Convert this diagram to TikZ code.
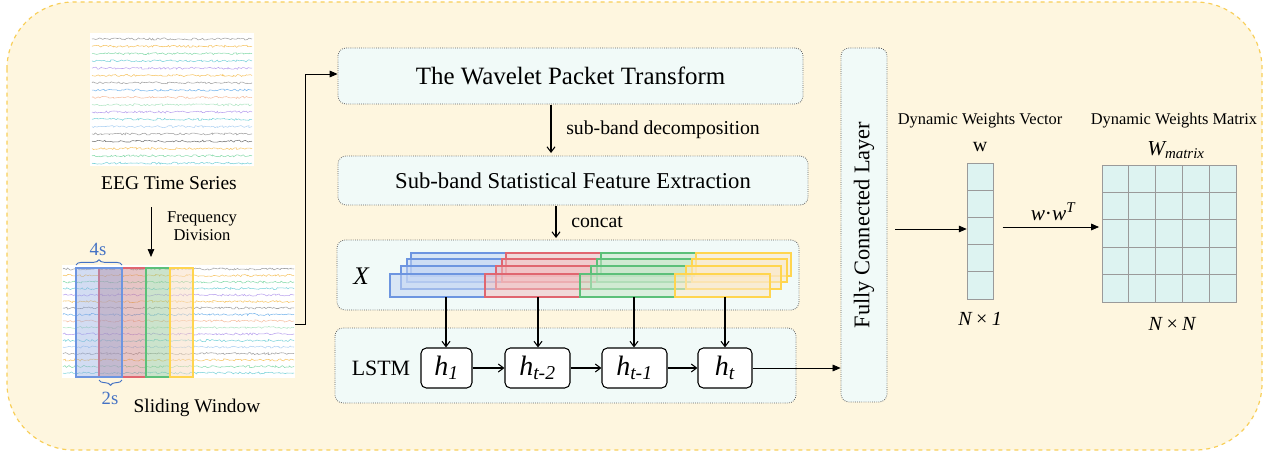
\documentclass[tikz,border=0pt]{standalone}
\usepackage{fontspec}
\setmainfont{LiberationSerif}[Extension=.ttf, UprightFont=*-Regular, ItalicFont=*-Italic, BoldFont=*-Bold, BoldItalicFont=*-BoldItalic]
\usetikzlibrary{arrows.meta,decorations.pathmorphing,decorations.pathreplacing}
\definecolor{bgy}{HTML}{FEF6DF}
\definecolor{bgyb}{HTML}{F8CF5A}
\definecolor{boxf}{HTML}{F1FAF8}
\definecolor{boxd}{HTML}{606060}
\definecolor{cellf}{HTML}{DDF3F1}
\definecolor{cellb}{HTML}{9A9A9A}
\definecolor{sblue}{HTML}{4472C4}
\definecolor{eg}{HTML}{8A8A8A}
\definecolor{edg}{HTML}{555555}
\definecolor{eo}{HTML}{F5B841}
\definecolor{egr}{HTML}{6FD39A}
\definecolor{ec}{HTML}{5BC8D0}
\definecolor{ep}{HTML}{A98BEA}
\definecolor{eb}{HTML}{5AA5E8}
\definecolor{es}{HTML}{F4B08A}
\definecolor{elg}{HTML}{9EE0B5}
\definecolor{elb}{HTML}{9CC8F0}
\definecolor{bf}{HTML}{C5D6F4}
\definecolor{bd}{HTML}{6D95E0}
\definecolor{rf}{HTML}{F0C0C3}
\definecolor{rd}{HTML}{E06670}
\definecolor{gf}{HTML}{C8E6C9}
\definecolor{gd}{HTML}{5CC079}
\definecolor{yf}{HTML}{FBE9CC}
\definecolor{yd}{HTML}{FFD54F}
\definecolor{wb}{HTML}{8FA8E0}
\definecolor{wr}{HTML}{C98080}
\definecolor{wg}{HTML}{98C89A}
\definecolor{wy}{HTML}{F8DCC0}
\newcommand{\fs}[1]{\fontsize{#1pt}{#1pt}\selectfont}
\begin{document}
\begin{tikzpicture}[x=0.75pt,y=-0.75pt,
  box/.style={draw=boxd, densely dotted, line width=0.6pt, fill=boxf, rounded corners=6pt, inner sep=0pt},
  hbox/.style={draw=black, line width=0.8pt, fill=white, rounded corners=4pt, minimum height=30pt, inner sep=0pt, font=\fs{21}\itshape},
  lbl/.style={inner sep=0pt, align=center},
  eeg/.style={line width=0.4pt, opacity=0.8, decorate, decoration={random steps, segment length=1.3pt, amplitude=0.8pt}},
  tri/.style={-{Triangle[length=6pt,width=5pt]}, line width=0.6pt},
  barb/.style={-{Straight Barb[length=4pt,width=6pt]}, line width=0.8pt},
  cell/.style={draw=cellb, fill=cellf, line width=0.6pt},
]
\useasboundingbox (0,0) rectangle (1276,453);
\pgfmathsetseed{7}
% background
\draw[bgyb, fill=bgy, dashed, line width=0.9pt, rounded corners=50pt] (7,2) rectangle (1262,450);

% EEG top
\fill[white] (90,33) rectangle (254,166);
\foreach \c [count=\i from 0] in {eg,eo,egr,ec,ep,eo,eg,eb,es,elg,ep,ec,elb,eg,edg,eo,egr,ec}
  \draw[\c, eeg] (92,{39+\i*7.3}) -- (252,{39+\i*7.3});
\node[lbl, font=\fs{14.6}] (eegt) at (169,183) {EEG Time Series};

% frequency division
\coordinate (fd1) at (151,207);
\coordinate (fd2) at (151,257);
\draw[tri, line width=0.5pt] (fd1) -- (fd2);
\node[lbl, font=\fs{12.4}] (fdl) at (202,226) {Frequency\\[1pt]Division};

% EEG bottom
\fill[white] (62,265) rectangle (295,378);
\foreach \c [count=\i from 0] in {eg,eo,egr,ec,ep,eo,eg,eb,es,elg,ep,ec,elb,eg,eo,egr,ec}
  \draw[\c, eeg] (63,{269+\i*6.5}) -- (294,{269+\i*6.5});
\draw[rd, fill=wr, fill opacity=0.45, line width=0.9pt] (99,268) rectangle (146,377);
\draw[bd, fill=wb, fill opacity=0.4, line width=0.9pt] (76,268) rectangle (122,377);
\draw[gd, fill=wg, fill opacity=0.5, line width=0.9pt] (146,268) rectangle (170,377);
\draw[yd, fill=wy, fill opacity=0.5, line width=0.9pt] (170,268) rectangle (193,377);
\draw[sblue, line width=0.7pt, decorate, decoration={brace, amplitude=4pt}] (76,265) -- (122,265);
\draw[sblue, line width=0.7pt, decorate, decoration={brace, amplitude=4pt}] (122,380) -- (99,380);
\node[lbl, font=\fs{14}, text=sblue] (l4s) at (98,249) {4s};
\node[lbl, font=\fs{14}, text=sblue] (l2s) at (110,398) {2s};
\node[lbl, font=\fs{14.5}] (slw) at (197,408) {Sliding Window};
\coordinate (sw) at (295,324);

% main boxes
\node[box, minimum width=348.75pt, minimum height=42pt] (wpt) at (570.5,76) {};
\node[lbl, font=\fs{18.7}] at (wpt) {The Wavelet Packet Transform};
\node[box, minimum width=352.5pt, minimum height=36.75pt] (sub) at (573,180.5) {};
\node[lbl, font=\fs{17}] at (sub) {Sub-band Statistical Feature Extraction};
\node[box, minimum width=346.5pt, minimum height=52.5pt] (xb) at (568,275) {};
\node[lbl, font=\fs{19}\itshape] (xl) at (361,276) {X};
\node[box, minimum width=345.75pt, minimum height=56.25pt] (lb) at (565.5,365.5) {};
\node[lbl, font=\fs{16.4}] (lstml) at (381,368) {LSTM};

\draw[tri] (sw) -- (305,324) -- (305,74) -- (wpt.west |- 0,74);

\draw[barb] (551,105) -- (551,153);
\node[lbl, font=\fs{14.8}, anchor=west] (sbd) at (566,130) {sub-band decomposition};
\draw[barb] (556,206) -- (556,238);
\node[lbl, font=\fs{14.8}, anchor=west] (cc) at (571,222) {concat};

% stacks
\foreach \x/\f/\d [count=\k from 0] in {390/bf/bd, 485/rf/rd, 580/gf/gd, 675/yf/yd} {
  \foreach \ox/\oy in {21/-21, 17/-15, 11/-8, 0/0}
    \draw[\d, fill=\f, fill opacity=0.55, line width=0.8pt] ({\x+\ox},{274+\oy}) rectangle ({\x+\ox+95},{297+\oy});
}
\foreach \n/\x in {s1/446, s2/538, s3/634, s4/725}
  \coordinate (\n) at (\x,297);

% h nodes
\node[hbox, minimum width=38.25pt] (h1) at (446.5,368) {h\textsubscript{1}};
\node[hbox, minimum width=48.75pt] (h2) at (537.5,368) {h\textsubscript{t-2}};
\node[hbox, minimum width=48.75pt] (h3) at (634.5,368) {h\textsubscript{t-1}};
\node[hbox, minimum width=40.5pt] (h4) at (725,368) {h\textsubscript{t}};
\draw[barb] (s1) -- (h1.north -| s1);
\draw[barb] (s2) -- (h2.north -| s2);
\draw[barb] (s3) -- (h3.north -| s3);
\draw[barb] (s4) -- (h4.north -| s4);
\draw[barb] (h1) -- (h2);
\draw[barb] (h2) -- (h3);
\draw[barb] (h3) -- (h4);

% FC
\node[box, minimum width=34.5pt, minimum height=265.5pt] (fc) at (864,225) {};
\node[lbl, font=\fs{16.8}, rotate=90] at (fc) {Fully Connected Layer};
\draw[tri, line width=0.5pt] (h4.east) -- (fc.west |- h4.east);

% vector
\node[inner sep=0pt, minimum width=19.5pt, minimum height=102pt] (vec) at (980,231) {};
\foreach \j in {0,...,4}
  \draw[cell] (967,{163+\j*27.2}) rectangle (993,{163+(\j+1)*27.2});
\node[lbl, font=\fs{12.3}] (dwv) at (980,121) {Dynamic Weights Vector};
\node[lbl, font=\fs{15}] (wl) at (980,147) {w};
\node[lbl, font=\fs{15}\itshape] (n1) at (980,319) {N\,×\,1};
\draw[tri] ([xshift=6pt]fc.east |- 0,229) -- (vec.west |- 0,229);

% matrix
\node[inner sep=0pt, minimum width=100.5pt, minimum height=102.75pt] (mat) at (1169,233.5) {};
\foreach \i in {0,...,4}
  \foreach \j in {0,...,4}
    \draw[cell] ({1102+\i*26.8},{165+\j*27.4}) rectangle ({1102+(\i+1)*26.8},{165+(\j+1)*27.4});
\node[lbl, font=\fs{12.3}] (dwm) at (1174,121) {Dynamic Weights Matrix};
\node[lbl, font=\fs{16}\itshape] (wm) at (1176,150) {W\textsubscript{matrix}};
\node[lbl, font=\fs{15}\itshape] (nn) at (1172,324) {N\,×\,N};
\draw[tri] ([xshift=7pt]vec.east |- 0,227) -- ([xshift=-2pt]mat.west |- 0,227);
\node[lbl, font=\fs{16}\itshape] (wwt) at (1053,212) {w{\upshape·}w\textsuperscript{T}};
\end{tikzpicture}
\end{document}
